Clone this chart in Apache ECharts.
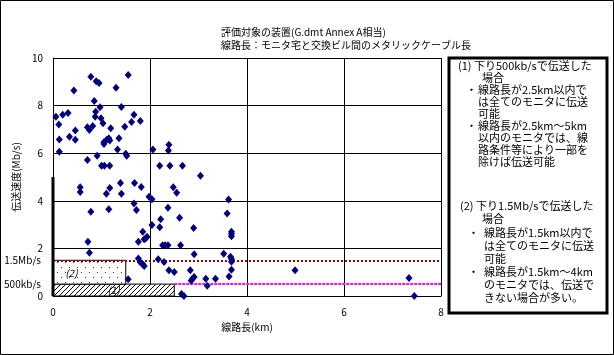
<!DOCTYPE html>
<html>
<head>
    <meta charset="utf-8">
    <title>伝送速度と線路長</title>
    <script type="text/javascript" src="https://cdn.jsdelivr.net/npm/echarts@6/dist/echarts.min.js"></script>
    <style>
        html, body { margin: 0; padding: 0; background: #fff; }
    </style>
</head>
<body>
    <div id="main" style="width: 614px;height:355px;"></div>
    <script type="text/javascript">
        // 線路長 (km)
        var lineLength = [
            0.06, 0.12, 0.13, 0.13, 0.20, 0.31, 0.34, 0.43, 0.46, 0.46,
            0.71, 0.71, 0.75, 0.78, 0.82, 0.85, 0.88, 0.87, 0.89, 0.91,
            0.95, 0.97, 0.99, 1.00, 1.03, 1.05, 1.06, 1.05, 1.10, 1.15,
            1.17, 1.17, 1.19, 1.30, 1.33, 1.36, 1.41, 1.48, 1.50, 1.52,
            1.55, 1.62, 1.67, 1.80, 2.06, 2.20, 2.38, 2.39, 2.41, 2.67,
            3.04, 0.56, 0.56, 0.78, 0.72, 0.75, 1.10, 1.17, 1.15, 1.39,
            1.41, 1.68, 1.82, 1.67, 1.72, 1.85, 1.76, 1.88, 1.91, 1.94,
            1.98, 2.04, 2.04, 1.76, 1.80, 1.85, 1.88, 1.55, 2.17, 2.29,
            2.20, 2.22, 2.37, 2.26, 2.31, 2.37, 2.48, 2.55, 2.61, 2.63,
            2.39, 2.50, 2.65, 2.70, 2.83, 2.91, 2.90, 2.91, 2.87, 2.85,
            3.15, 3.18, 3.35, 3.52, 3.62, 3.59, 3.68, 3.68, 3.68, 3.66,
            3.68, 3.68, 3.68, 3.63, 4.99, 7.34, 7.45
        ];
        // 伝送速度 (Mb/s)
        var rate = [
            7.53, 7.21, 6.58, 6.06, 7.62, 7.69, 6.69, 8.63, 6.95, 6.57,
            5.71, 7.09, 6.97, 9.21, 7.14, 8.19, 7.74, 7.53, 9.02, 5.89,
            8.95, 7.93, 7.47, 5.47, 7.26, 6.46, 5.47, 6.39, 6.55, 6.63,
            6.53, 5.47, 7.05, 8.75, 6.16, 6.63, 7.94, 7.11, 5.98, 5.89,
            9.29, 7.31, 7.62, 7.35, 6.16, 5.47, 6.11, 6.36, 5.47, 5.47,
            5.05, 4.57, 4.37, 3.54, 2.28, 1.82, 4.30, 4.54, 3.64, 4.75,
            4.30, 4.75, 4.58, 3.89, 3.61, 2.70, 2.28, 2.38, 2.42, 2.49,
            4.17, 4.06, 2.98, 1.58, 1.42, 1.33, 1.26, 0.70, 1.54, 1.43,
            2.89, 3.22, 3.71, 2.13, 2.13, 2.13, 4.57, 4.34, 3.29, 2.13,
            1.08, 1.01, 0.08, 0.00, 1.08, 1.75, 2.86, 0.80, 0.71, 0.64,
            0.73, 0.43, 0.73, 1.78, 4.05, 3.47, 2.70, 2.62, 2.51, 1.65,
            1.55, 1.44, 1.10, 0.82, 1.08, 0.76, 0.00
        ];
        var xTicks = [0, 2, 4, 6, 8];
        var yTicks = [0, 2, 4, 6, 8, 10];

        // 伝送可能範囲: [速度, 上限線路長]
        var limit500k = [0.5, 2.5];
        var limit15M = [1.5, 1.5];
        var rateLabels = { '0.5': '500kb/s', '1.5': '1.5Mb/s' };

        var titleLines = [
            '評価対象の装置(G.dmt Annex A相当)',
            '線路長：モニタ宅と交換ビル間のメタリックケーブル長'
        ];
        // 注記 [文, 左位置, 上位置]
        var notes = [
            ['(1) 下り500kb/sで伝送した', 458, 66],
            ['場合', 482, 78],
            ['・', 466, 90], ['線路長が2.5km以内で', 478, 90],
            ['は全てのモニタに伝送', 478, 102],
            ['可能', 478, 114],
            ['・', 466, 126], ['線路長が2.5km～5km', 478, 126],
            ['以内のモニタでは、線', 478, 138],
            ['路条件等により一部を', 478, 150],
            ['除けば伝送可能', 478, 162],
            ['(2) 下り1.5Mb/sで伝送した', 460, 206],
            ['場合', 482, 219],
            ['・', 468, 233], ['線路長が1.5km以内で', 484, 233],
            ['は全てのモニタに伝送', 484, 246],
            ['可能', 484, 259],
            ['・', 468, 272], ['線路長が1.5km～4km', 484, 272],
            ['のモニタでは、伝送で', 484, 285],
            ['きない場合が多い。', 484, 298]
        ];

        var font = '"Noto Sans CJK JP", sans-serif';

        // 網掛け用パターン
        function makeDots() {
            var c = document.createElement('canvas');
            c.width = 8; c.height = 10;
            var g = c.getContext('2d');
            g.fillStyle = '#fff'; g.fillRect(0, 0, 8, 10);
            g.fillStyle = '#333';
            g.fillRect(1, 2, 1, 1);
            g.fillRect(5, 7, 1, 1);
            return c;
        }
        function makeHatch() {
            var c = document.createElement('canvas');
            c.width = 5; c.height = 5;
            var g = c.getContext('2d');
            g.fillStyle = '#fff'; g.fillRect(0, 0, 5, 5);
            g.fillStyle = '#000';
            for (var i = 0; i < 5; i++) g.fillRect(i, 4 - i, 1, 1);
            return c;
        }

        var points = lineLength.map(function (d, i) { return [d, rate[i]]; });

        var graphics = [
            { type: 'rect', silent: true, shape: { x: 0.5, y: 0.5, width: 613, height: 354 },
              style: { fill: 'none', stroke: '#000', lineWidth: 1 } },
            { type: 'rect', silent: true, shape: { x: 449, y: 58, width: 158, height: 255 },
              style: { fill: '#fff', stroke: '#000', lineWidth: 3 } },
            { type: 'line', silent: true, shape: { x1: 53, y1: 177, x2: 53, y2: 296 },
              style: { stroke: '#000', lineWidth: 3 }, z: 10 }
        ];
        titleLines.forEach(function (t, i) {
            graphics.push({ type: 'text', silent: true, left: 221, top: 27 + i * 13,
                style: { text: t, fill: '#000', font: '10px ' + font } });
        });
        notes.forEach(function (n) {
            graphics.push({ type: 'text', silent: true, left: n[1], top: n[2] - 6,
                style: { text: n[0], fill: '#000', font: '11px ' + font } });
        });

        var chartDom = document.getElementById('main');
        var myChart = echarts.init(chartDom);
        var option = {
            backgroundColor: '#fff',
            animation: false,
            textStyle: { fontFamily: font },
            grid: { left: 53, top: 58, width: 388, height: 238 },
            xAxis: {
                type: 'value',
                min: xTicks[0], max: xTicks[xTicks.length - 1], interval: 2,
                name: '線路長(km)', nameLocation: 'middle', nameGap: 26,
                nameTextStyle: { fontSize: 10, color: '#000' },
                axisLine: { lineStyle: { color: '#000' } },
                axisTick: { show: false },
                axisLabel: { fontSize: 10, color: '#000', margin: 11 },
                splitLine: { lineStyle: { color: '#000', width: 1 } }
            },
            yAxis: [{
                type: 'value',
                min: yTicks[0], max: yTicks[yTicks.length - 1], interval: 2,
                name: '伝送速度(Mb/s)', nameLocation: 'middle', nameGap: 28, nameRotate: 90,
                nameTextStyle: { fontSize: 10, color: '#000' },
                axisLine: { show: true, lineStyle: { color: '#000' } },
                axisTick: { show: false },
                axisLabel: { fontSize: 10, color: '#000', margin: 10 },
                splitLine: { lineStyle: { color: '#000', width: 1 } }
            }, {
                type: 'value', position: 'left',
                min: 0, max: 10, interval: 0.5,
                axisLine: { show: false }, axisTick: { show: false }, splitLine: { show: false },
                axisLabel: {
                    fontSize: 10, color: '#000', margin: 12, padding: [8, 0, 0, 0],
                    formatter: function (v) { return rateLabels[String(v)] || ''; }
                }
            }],
            graphic: graphics,
            series: [{
                type: 'scatter',
                data: points,
                symbol: 'diamond',
                symbolSize: [7, 8],
                itemStyle: { color: '#000080', opacity: 1 },
                z: 5,
                markArea: {
                    silent: true,
                    label: { color: '#000', fontSize: 10, fontStyle: 'italic' },
                    data: [
                        [{ coord: [0, 0], name: '(1)',
                           itemStyle: { color: { image: makeHatch(), repeat: 'repeat' }, borderColor: '#000', borderWidth: 1 },
                           label: { position: 'inside' } },
                         { coord: [limit500k[1], limit500k[0]] }],
                        [{ coord: [0, limit500k[0]], name: '(2)',
                           itemStyle: { color: { image: makeDots(), repeat: 'repeat' }, borderColor: '#000', borderWidth: 1 },
                           label: { position: 'inside', offset: [-18, 1] } },
                         { coord: [limit15M[1], limit15M[0]] }]
                    ]
                },
                markLine: {
                    silent: true,
                    symbol: 'none',
                    label: { show: false },
                    data: [
                        [{ coord: [0, limit15M[0]], lineStyle: { color: '#990000', width: 2, type: [2, 2] } },
                         { coord: [8, limit15M[0]] }],
                        [{ coord: [limit500k[1], limit500k[0]], lineStyle: { color: '#ff00ff', width: 2, type: [3, 1] } },
                         { coord: [8, limit500k[0]] }]
                    ]
                }
            }]
        };
        myChart.setOption(option);
    </script>
</body>
</html>
